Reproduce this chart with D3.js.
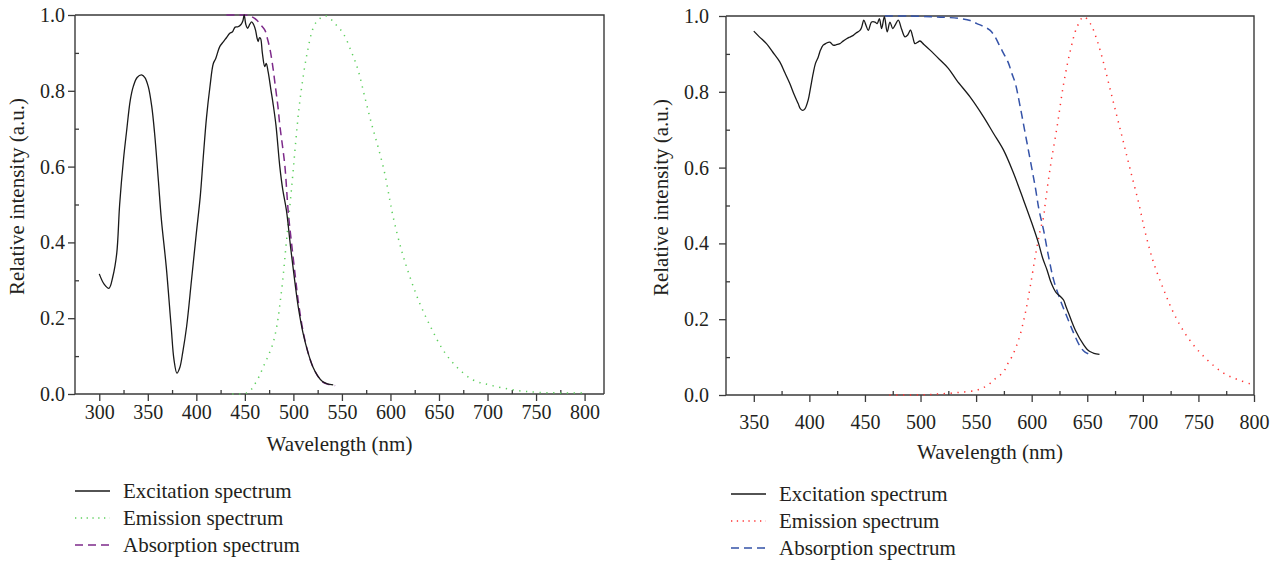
<!DOCTYPE html>
<html>
<head>
<meta charset="utf-8">
<script src="https://cdn.jsdelivr.net/npm/d3@7"></script>
<style>
  html, body { margin: 0; padding: 0; background: #fff; }
  svg { display: block; }
  text { font-family: "Liberation Serif", "Times New Roman", serif; fill: #231f20; }
</style>
</head>
<body>
<svg id="chart" width="1277" height="563"></svg>
<script>
// ---------------- DATA ----------------
const yTickValues = [0, 0.2, 0.4, 0.6, 0.8, 1.0];
const yMinorTicks = [0.1, 0.3, 0.5, 0.7, 0.9];
const leftXTicks = [300, 350, 400, 450, 500, 550, 600, 650, 700, 750, 800];
const leftXMinor = [325, 375, 425, 475, 525, 575, 625, 675, 725, 775];
const rightXTicks = [350, 400, 450, 500, 550, 600, 650, 700, 750, 800];
const rightXMinor = [375, 425, 475, 525, 575, 625, 675, 725, 775];
const seriesNames = ["Excitation spectrum", "Emission spectrum", "Absorption spectrum"];
const xTitle = "Wavelength (nm)";
const yTitle = "Relative intensity (a.u.)";

// Left panel: [wavelength nm, relative intensity]
const leftExcitation = [
  [300,0.317],[305,0.29],[310,0.279],[314,0.31],[318,0.371],[321,0.50],[325,0.62],[328,0.69],
  [332,0.776],[335,0.811],[339,0.835],[343.5,0.842],[347,0.835],[350.5,0.811],[354,0.76],[357,0.688],
  [361,0.56],[364,0.46],[369,0.336],[374,0.18],[377,0.09],[380,0.055],[383,0.07],[386,0.11],
  [390,0.178],[395,0.30],[400,0.424],[404,0.52],[407,0.62],[410.5,0.73],[414,0.81],[417.5,0.872],
  [420,0.885],[424,0.916],[428,0.93],[431,0.94],[434.5,0.952],[437,0.955],[440,0.968],[443,0.969],
  [446,0.975],[448,0.985],[449.3,1.0],[451,0.975],[452.8,0.965],[455,0.975],[457,0.982],[459,0.975],
  [461,0.96],[462.5,0.94],[463.7,0.93],[465,0.94],[466.2,0.938],[468,0.9],[470.5,0.864],[472,0.872],
  [474,0.85],[477,0.80],[479,0.767],[482,0.71],[486,0.60],[489,0.54],[492.8,0.485],[497,0.39],
  [501.7,0.292],[505,0.23],[510,0.16],[515,0.11],[520,0.072],[525,0.048],[530,0.033],[535,0.027],[541,0.024]
];
const leftEmission = [
  [437,0],[445,0.0],[452,0.003],[456,0.01],[460,0.025],[465,0.048],[469,0.072],[474,0.10],[479,0.134],
  [483,0.18],[486,0.235],[489,0.30],[492,0.38],[495,0.46],[498,0.54],[501,0.625],[504,0.71],[507,0.78],
  [511.7,0.864],[515,0.91],[518.6,0.952],[522,0.975],[525.5,0.987],[532.3,0.998],[537,0.993],[542.6,0.978],
  [551.2,0.952],[559.8,0.903],[566.6,0.855],[573.5,0.784],[580.4,0.714],[587.2,0.652],[594.1,0.582],
  [599.3,0.512],[602.7,0.468],[611.3,0.380],[619.9,0.31],[630.2,0.239],[642.2,0.173],[654.2,0.116],
  [668,0.072],[685.2,0.037],[702.2,0.024],[726,0.011],[754,0.004],[800,0.003]
];
const leftAbsorption = [
  [431,1.0],[440,1.0],[450,1.0],[456,0.997],[462,0.987],[466,0.975],[470.6,0.96],[473,0.94],[476,0.908],
  [479,0.86],[481,0.82],[484,0.76],[486.2,0.705],[489,0.65],[491.3,0.60],[494.8,0.477],[498,0.40],
  [502,0.31],[505,0.245],[510,0.165],[515,0.11],[520,0.072],[525,0.048],[530,0.032],[535,0.026],[543,0.022]
];

// Right panel
const rightExcitation = [
  [350,0.960],[355,0.945],[361.4,0.927],[367,0.905],[373.4,0.879],[378,0.85],[382.4,0.822],[386,0.795],
  [389.9,0.769],[392,0.755],[394,0.751],[396,0.755],[398.9,0.778],[401,0.81],[403.4,0.848],[405.5,0.875],
  [408,0.892],[410,0.91],[412.4,0.923],[415,0.928],[418.4,0.931],[421.4,0.923],[424,0.924],[427.5,0.927],
  [430,0.933],[433.5,0.940],[436,0.944],[439.5,0.949],[442,0.955],[445.5,0.962],[447,0.97],[449,0.989],
  [451,0.975],[453,0.962],[456,0.984],[459,0.984],[461,0.980],[463,0.993],[465,0.967],[467.5,0.998],
  [470,0.958],[472.5,0.984],[475,0.967],[477,0.975],[480,0.989],[483,0.965],[486,0.945],[488.5,0.95],
  [491,0.963],[493,0.945],[495,0.927],[497,0.93],[499.5,0.934],[503,0.925],[508.6,0.91],[517.6,0.884],
  [525,0.862],[532.6,0.830],[544.7,0.786],[556.7,0.734],[565.7,0.690],[574.7,0.646],[583.7,0.585],
  [592.7,0.514],[600.2,0.453],[606.2,0.40],[610,0.36],[613.8,0.330],[617,0.30],[619.8,0.281],[622,0.27],
  [624.3,0.264],[626.5,0.258],[628.8,0.250],[631,0.232],[633.3,0.215],[639.3,0.171],[646.8,0.132],
  [650,0.12],[652.8,0.114],[656,0.11],[661,0.107]
];
const rightEmission = [
  [472,0],[490,0.0],[505,0.001],[517.6,0.003],[535.7,0.007],[550.7,0.013],[557,0.02],[562.7,0.031],
  [568,0.045],[574.7,0.061],[578,0.08],[582.2,0.101],[588.2,0.145],[594.2,0.215],[598.7,0.286],
  [603.2,0.365],[607.7,0.435],[610.7,0.47],[612.2,0.505],[616.8,0.602],[622.8,0.707],[628.8,0.822],
  [634.8,0.909],[640.8,0.971],[646.8,0.998],[652.8,0.980],[658.8,0.936],[664.8,0.875],[670.8,0.804],
  [676.8,0.734],[682.8,0.664],[688.8,0.593],[696.4,0.505],[702.4,0.426],[709.9,0.347],[718.9,0.277],
  [727.9,0.215],[739.9,0.154],[755,0.101],[773,0.057],[786,0.04],[798,0.028]
];
const rightAbsorption = [
  [468,1.0],[490,1.0],[510,0.998],[517.6,0.997],[525,0.996],[535.7,0.993],[544.7,0.988],[550.7,0.980],
  [557,0.972],[562.7,0.962],[567,0.945],[571.7,0.918],[575.5,0.897],[579.2,0.875],[582,0.85],[585.3,0.822],
  [589.7,0.760],[594.2,0.690],[598.7,0.620],[603.2,0.549],[606.5,0.49],[610.7,0.435],[615.2,0.365],
  [619.8,0.303],[625.8,0.250],[631.8,0.206],[637.8,0.163],[643.8,0.127],[648,0.113],[654.3,0.105]
];

// ---------------- DRAW ----------------
const svg = d3.select("#chart");
const AXIS = "#3a3a3a";

function drawPanel(cfg) {
  const x = d3.scaleLinear().domain(cfg.xDomain).range([cfg.left, cfg.right]);
  const y = d3.scaleLinear().domain([0, 1]).range([cfg.bottom, cfg.top]);
  const g = svg.append("g");

  // frame (top & right)
  g.append("path")
    .attr("d", `M${cfg.left},${cfg.top}H${cfg.right}V${cfg.bottom}`)
    .attr("fill", "none").attr("stroke", AXIS).attr("stroke-width", 1.4);

  const xAx = g.append("g").attr("transform", `translate(0,${cfg.bottom})`)
    .call(d3.axisBottom(x).tickValues(cfg.xTicks).tickSize(7).tickPadding(cfg.xPad).tickFormat(d3.format("d")));
  const xMin = g.append("g").attr("transform", `translate(0,${cfg.bottom})`)
    .call(d3.axisTop(x).tickValues(cfg.xMinor).tickSize(4).tickFormat(""));
  const yAx = g.append("g").attr("transform", `translate(${cfg.left},0)`)
    .call(d3.axisLeft(y).tickValues(yTickValues).tickSize(7).tickPadding(cfg.yPad).tickFormat(d3.format(".1f")));
  const yMin = g.append("g").attr("transform", `translate(${cfg.left},0)`)
    .call(d3.axisRight(y).tickValues(yMinorTicks).tickSize(4).tickFormat(""));

  [xAx, xMin, yAx, yMin].forEach(a => {
    a.selectAll(".domain").attr("stroke", AXIS).attr("stroke-width", 1.4);
    a.selectAll(".tick line").attr("stroke", AXIS).attr("stroke-width", 1.3);
    a.selectAll("text").style("font-family", '"Liberation Serif", serif').style("font-size", "20px").attr("fill", "#231f20");
  });
  xAx.select(".domain").attr("d", `M${cfg.left},0H${cfg.right}`);
  xMin.select(".domain").remove();
  yMin.select(".domain").remove();
  yAx.select(".domain").attr("d", `M0,${cfg.bottom}V${cfg.top}`);

  g.append("text").attr("x", (cfg.left + cfg.right) / 2).attr("y", cfg.xTitleY)
    .attr("text-anchor", "middle").style("font-size", "21px").text(xTitle);
  g.append("text").attr("transform", `translate(${cfg.yTitleX},${(cfg.top + cfg.bottom) / 2 - 8}) rotate(-90)`)
    .attr("text-anchor", "middle").style("font-size", "21px").text(yTitle);

  const line = d3.line().x(d => x(d[0])).y(d => y(d[1])).curve(d3.curveCatmullRom.alpha(0.5));
  const styles = [
    { data: cfg.ex, color: "#1a1a1a", dash: null, w: 1.3 },
    { data: cfg.em, color: cfg.emColor, dash: "1.3,5.5", w: 1.5 },
    { data: cfg.ab, color: cfg.abColor, dash: "8,5", w: 1.5 }
  ];
  [1, 2, 0].forEach(i => {
    const s = styles[i];
    g.append("path").datum(s.data).attr("d", line)
      .attr("fill", "none").attr("stroke", s.color).attr("stroke-width", s.w)
      .attr("stroke-dasharray", s.dash);
  });

  seriesNames.forEach((name, i) => {
    const s = styles[i];
    const ly = cfg.legendY + i * 27;
    g.append("line").attr("x1", cfg.legendX).attr("x2", cfg.legendX + 35)
      .attr("y1", ly).attr("y2", ly)
      .attr("stroke", s.color).attr("stroke-width", i === 0 ? 1.5 : 1.6)
      .attr("stroke-dasharray", i === 1 ? "1.3,4.5" : s.dash);
    g.append("text").attr("x", cfg.legendX + 48).attr("y", ly + 7)
      .style("font-size", "21px").text(name);
  });
}

drawPanel({
  xDomain: [275, 820], left: 75, right: 604, top: 15, bottom: 394,
  xTicks: leftXTicks, xMinor: leftXMinor, xPad: 4, yPad: 3,
  xTitleY: 451, yTitleX: 24,
  ex: leftExcitation, em: leftEmission, ab: leftAbsorption,
  emColor: "#5ccf5c", abColor: "#7d2a8a",
  legendX: 75, legendY: 491
});

drawPanel({
  xDomain: [325, 800], left: 726, right: 1254, top: 16, bottom: 395,
  xTicks: rightXTicks, xMinor: rightXMinor, xPad: 13, yPad: 10,
  xTitleY: 459, yTitleX: 668,
  ex: rightExcitation, em: rightEmission, ab: rightAbsorption,
  emColor: "#ff3030", abColor: "#3553a8",
  legendX: 731, legendY: 494
});
</script>
</body>
</html>
